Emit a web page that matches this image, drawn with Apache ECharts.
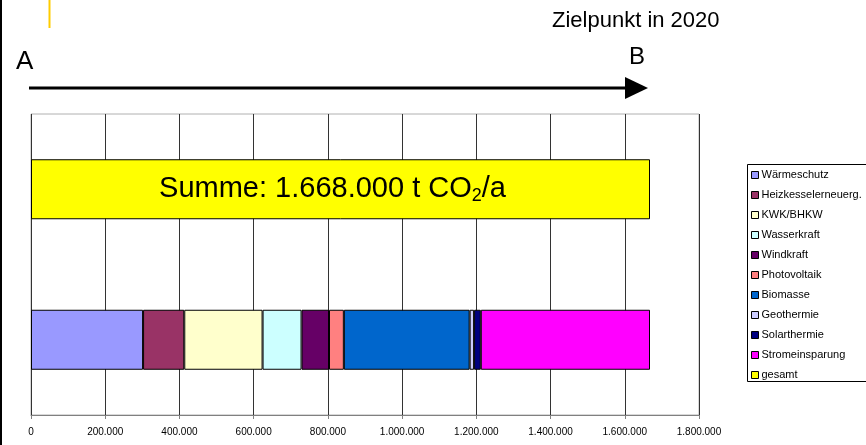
<!DOCTYPE html>
<html>
<head>
<meta charset="utf-8">
<script src="https://cdn.jsdelivr.net/npm/echarts@6/dist/echarts.min.js"></script>
<style>
  html, body { margin: 0; padding: 0; background: #fff; }
  #chart { width: 866px; height: 445px; }
</style>
</head>
<body>
<div id="chart"></div>
<script>
// Kategorien (unten: Einzelmassnahmen, oben: gesamt)
const categories = ['Massnahmen', 'gesamt'];

// Einsparung je Massnahme in t CO2/a
const measureNames = ['Wärmeschutz', 'Heizkesselerneuerg.', 'KWK/BHKW', 'Wasserkraft', 'Windkraft',
  'Photovoltaik', 'Biomasse', 'Geothermie', 'Solarthermie', 'Stromeinsparung'];
const measureValues = [302000, 111000, 211000, 105000, 74000, 40000, 339000, 12000, 18000, 456000];
const measureColors = ['#9999FF', '#993366', '#FFFFCC', '#CCFFFF', '#660066',
  '#FF8080', '#0066CC', '#CCCCFF', '#000080', '#FF00FF'];

const totalName = 'gesamt';
const totalValue = 1668000;
const totalColor = '#FFFF00';

const xTicks = [0, 200000, 400000, 600000, 800000, 1000000, 1200000, 1400000, 1600000, 1800000];

const FONT = 'Liberation Sans, Arial, sans-serif';

/**
 * Zahl mit Punkt als Tausendertrenner
 */
function formatDe(v) {
  return String(v).replace(/\B(?=(\d{3})+(?!\d))/g, '.');
}

const chart = echarts.init(document.getElementById('chart'), null, { renderer: 'canvas' });

let series = measureNames.map((name, i) => ({
  name: name,
  type: 'bar',
  stack: 'co2',
  barWidth: 60,
  itemStyle: { color: measureColors[i], borderColor: '#000', borderWidth: 1 },
  data: [measureValues[i], null],
  silent: true
}));

series.push({
  name: totalName,
  type: 'bar',
  stack: 'co2',
  barWidth: 60,
  itemStyle: { color: totalColor, borderColor: '#000', borderWidth: 1 },
  data: [null, totalValue],
  label: {
    show: true,
    position: 'inside',
    offset: [-8, 0],
    formatter: '{n|Summe: ' + formatDe(totalValue) + ' t CO}{s|2}{n|/a}',
    rich: {
      n: { fontFamily: FONT, fontSize: 29, color: '#000', lineHeight: 34 },
      s: { fontFamily: FONT, fontSize: 18, color: '#000', lineHeight: 34, padding: [14, 0, 0, 0] }
    }
  },
  silent: true
});

const option = {
  animation: false,
  backgroundColor: '#fff',
  grid: {
    left: 31, top: 114, width: 668, height: 301,
    show: true, borderColor: '#b0b0b0', borderWidth: 1
  },
  xAxis: {
    type: 'value',
    min: xTicks[0],
    max: xTicks[xTicks.length - 1],
    interval: xTicks[1] - xTicks[0],
    axisLine: { show: true, lineStyle: { color: '#808080', width: 1 } },
    axisTick: { show: true, length: 4, lineStyle: { color: '#808080' } },
    splitLine: { show: true, lineStyle: { color: '#333', width: 1 } },
    axisLabel: {
      fontFamily: FONT, fontSize: 10, color: '#000', margin: 12,
      formatter: v => formatDe(v)
    }
  },
  yAxis: {
    type: 'category',
    data: categories,
    axisLine: { show: false },
    axisTick: { show: false },
    axisLabel: { show: false }
  },
  legend: {
    orient: 'vertical',
    left: 747,
    top: 164,
    padding: [5, 4, 4, 4],
    itemWidth: 7,
    itemHeight: 7,
    itemGap: 8,
    borderWidth: 0,
    icon: 'rect',
    selectedMode: false,
    itemStyle: { borderWidth: 1, borderColor: '#000' },
    textStyle: { fontFamily: FONT, fontSize: 11, color: '#000', lineHeight: 12, padding: [0, 0, 0, -2] },
    data: measureNames.concat([totalName])
  },
  series: series,
  graphic: [
    { type: 'line', shape: { x1: 1, y1: 0, x2: 1, y2: 445 }, style: { stroke: '#000', lineWidth: 2 } },
    { type: 'line', shape: { x1: 49.5, y1: 0, x2: 49.5, y2: 28 }, style: { stroke: '#FFCC00', lineWidth: 2 } },
    { type: 'line', shape: { x1: 29, y1: 88, x2: 628, y2: 88 }, style: { stroke: '#000', lineWidth: 3 } },
    { type: 'polygon', shape: { points: [[625, 77], [648, 88], [625, 99]] }, style: { fill: '#000' } },
    { type: 'polyline', shape: { points: [[866, 164.5], [747.5, 164.5], [747.5, 381.5], [866, 381.5]] }, style: { fill: 'none', stroke: '#000', lineWidth: 1 } },
    { type: 'text', left: 16, top: 49, style: { text: 'A', font: '26px ' + FONT, fill: '#000' } },
    { type: 'text', left: 629, top: 45, style: { text: 'B', font: '24px ' + FONT, fill: '#000' } },
    { type: 'text', left: 552, top: 10, style: { text: 'Zielpunkt in 2020', font: '22px ' + FONT, fill: '#000' } }
  ]
};

chart.setOption(option);
</script>
</body>
</html>
